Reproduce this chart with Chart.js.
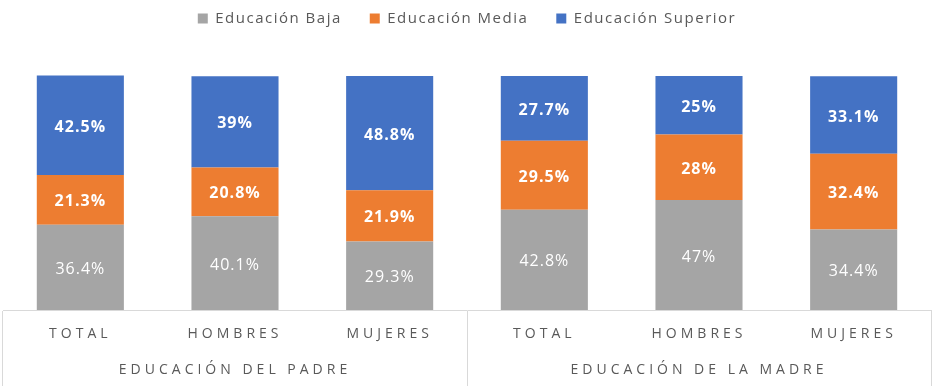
<!DOCTYPE html>
<html>
<head>
<meta charset="utf-8">
<script src="https://cdn.jsdelivr.net/npm/chart.js@4/dist/chart.umd.min.js"></script>
<style>
  html, body { margin: 0; padding: 0; background: #fff; }
  #wrap { width: 936px; height: 386px; }
</style>
</head>
<body>
<div id="wrap"><canvas id="grafico"></canvas></div>
<script>
// categorias y grupos
var categorias = ["TOTAL", "HOMBRES", "MUJERES", "TOTAL", "HOMBRES", "MUJERES"];
var grupos = ["", "EDUCACIÓN DEL PADRE", "", "", "EDUCACIÓN DE LA MADRE", ""];

// porcentajes por nivel educativo
var educBaja = [36.4, 40.1, 29.3, 42.8, 47, 34.4];
var educMedia = [21.3, 20.8, 21.9, 29.5, 28, 32.4];
var educSuperior = [42.5, 39, 48.8, 27.7, 25, 33.1];

// dos lineas de texto + dos vacias para que la caja del eje mida 76px
var etiquetas = categorias.map(function (c, i) { return [c, grupos[i], "", ""]; });

// etiquetas dentro de las barras + espaciado de letras
var espaciado = {
    id: "espaciado",
    beforeInit: function (chart) {
        var fit = chart.legend.fit;
        chart.legend.fit = function () {
            fit.call(this);
            this.height = 93;
        };
    },
    beforeLayout: function (chart) { chart.ctx.letterSpacing = "1.5px"; },
    afterLayout: function (chart) { chart.ctx.letterSpacing = "0px"; },
    beforeDraw: function (chart) { chart.ctx.letterSpacing = "1.5px"; },
    beforeDatasetsDraw: function (chart) { chart.ctx.letterSpacing = "0px"; },
    afterDatasetsDraw: function (chart) {
        var ctx = chart.ctx;
        ctx.save();
        ctx.letterSpacing = "1px";
        ctx.textAlign = "center";
        ctx.textBaseline = "middle";
        ctx.fillStyle = "#ffffff";
        chart.data.datasets.forEach(function (ds, i) {
            chart.getDatasetMeta(i).data.forEach(function (bar, j) {
                ctx.font = (i === 0 ? "" : "bold ") + "16px 'Open Sans'";
                ctx.fillText(ds.data[j] + "%", bar.x, (bar.y + bar.base) / 2 + 2);
            });
        });
        ctx.restore();
        ctx.letterSpacing = "4px"; // etiquetas del eje x (z = 1)
    },
    afterDraw: function (chart) { chart.ctx.letterSpacing = "0px"; }
};

var config = {
    type: "bar",
    data: {
        labels: etiquetas,
        datasets: [{
            label: "Educación Baja",
            data: educBaja,
            backgroundColor: "#a5a5a5"
        }, {
            label: "Educación Media",
            data: educMedia,
            backgroundColor: "#ed7d31"
        }, {
            label: "Educación Superior",
            data: educSuperior,
            backgroundColor: "#4472c4"
        }]
    },
    options: {
        responsive: true,
        maintainAspectRatio: false,
        animation: false,
        layout: { padding: { left: 3, right: 5, top: -17, bottom: 0 } },
        datasets: { bar: { barPercentage: 0.563, categoryPercentage: 1, clip: false } },
        plugins: {
            tooltip: { enabled: false },
            legend: {
                position: "top",
                labels: {
                    boxWidth: 10,
                    boxHeight: 10,
                    padding: 28,
                    color: "#595959",
                    font: { family: "'Open Sans'", size: 15 }
                }
            }
        },
        scales: {
            x: {
                stacked: true,
                offset: true,
                grid: {
                    offset: true,
                    drawOnChartArea: false,
                    tickLength: 80,
                    color: function (c) {
                        return (c.index === undefined || c.index % 3 === 0) ? "#d9d9d9" : "rgba(0,0,0,0)";
                    }
                },
                border: { color: "#d9d9d9" },
                ticks: {
                    padding: -74,
                    autoSkip: false,
                    maxRotation: 0,
                    minRotation: 0,
                    z: 1,
                    color: "#595959",
                    font: { family: "'Open Sans'", size: 14, lineHeight: "36px" }
                }
            },
            y: {
                stacked: true,
                display: false,
                min: 0,
                max: 100
            }
        }
    },
    plugins: [espaciado]
};

var grafico = new Chart(document.getElementById("grafico"), config);
</script>
</body>
</html>
